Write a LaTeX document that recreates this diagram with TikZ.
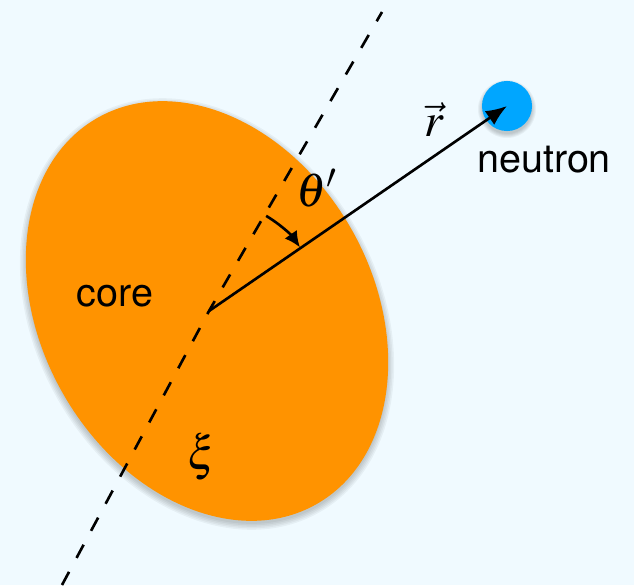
\documentclass[tikz,border=0pt]{standalone}
\usepackage{mathptmx}
\usepackage{fontspec}
\setmainfont{TeX Gyre Heros}
\usetikzlibrary{arrows.meta}
\definecolor{bgblue}{RGB}{240,250,255}
\definecolor{coreorange}{RGB}{255,147,0}
\definecolor{neutronblue}{RGB}{0,166,255}
\tikzset{
  lbl/.style={font=\fontsize{22.5}{26}\selectfont,anchor=base},
  sym/.style={font=\fontsize{27}{32}\selectfont,anchor=base},
  shade step/.style={fill=black,fill opacity=0.045},
  axisline/.style={dash pattern=on 8.5pt off 9pt,line width=1.5pt},
  rvec/.style={line width=1.5pt,-{Latex[length=12pt,width=9.5pt]}},
  anglearc/.style={line width=1.5pt,-{Latex[length=9pt,width=8.5pt]}},
}
\begin{document}
\begin{tikzpicture}[x=0.02cm,y=-0.02cm]
\fill[bgblue] (0,0) rectangle (634,585);
\useasboundingbox (0,0) rectangle (634,585);
\coordinate (O) at (209,311);
\coordinate (top) at (382,12);
\coordinate (bot) at (62,585);
% soft shadows
\foreach \d in {0,1.5,...,6}
  \fill[shade step] (207,314) ellipse [x radius=222+\d,y radius=166+\d,rotate=-60.5];
\foreach \d in {0,1,...,4}
  \fill[shade step] (507,109) circle (25+\d);
% core and its axis
\fill[coreorange] (207,311) ellipse [x radius=222,y radius=166,rotate=-60.5];
\draw[axisline] (bot) -- (O) -- (top);
\node[lbl] (core) at (115,306) {core};
\node[sym] (xi) at (202,469) {$\xi$};
% neutron
\node[circle,fill=neutronblue,minimum size=28.5pt,inner sep=0pt] (n) at (507,106) {};
\node[lbl] (nlbl) at (544,172) {neutron};
\draw[rvec] (O) -- (n.center);
\node[sym] (r) at (434,136) {$\vec{r}$};
% angle
\draw[anglearc] ([shift={(-59:111)}]O) arc[start angle=-59,end angle=-35,radius=111];
\node[sym] (th) at (317,206) {$\theta'$};
\end{tikzpicture}
\end{document}
